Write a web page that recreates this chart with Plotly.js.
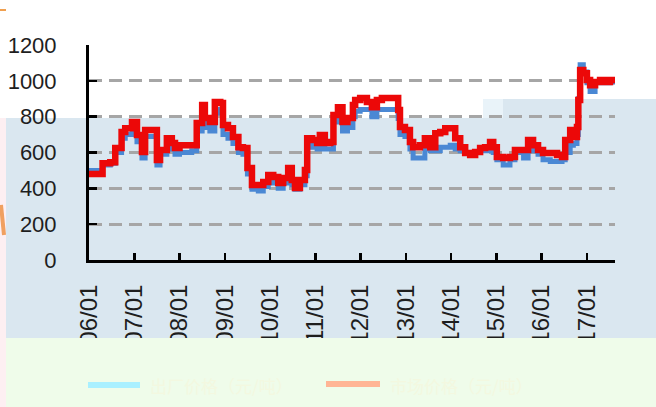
<!DOCTYPE html>
<html>
<head>
<meta charset="utf-8">
<script src="https://cdn.plot.ly/plotly-3.0.1.min.js"></script>
<style>html,body{margin:0;padding:0;background:#fff;}#chart{width:656px;height:407px;}</style>
</head>
<body>
<div id="chart"></div>
<script>
// Time in decimal years
var years = [2006.00,2006.29,2006.30,2006.47,2006.58,2006.72,2006.80,2006.95,2007.06,2007.17,2007.24,2007.40,2007.50,2007.57,2007.72,2007.83,2007.90,2008.00,2008.27,2008.38,2008.50,2008.56,2008.67,2008.78,2008.90,2008.96,2009.07,2009.18,2009.30,2009.40,2009.50,2009.60,2009.74,2009.85,2009.96,2010.07,2010.18,2010.29,2010.40,2010.48,2010.55,2010.66,2010.77,2010.82,2010.93,2011.04,2011.10,2011.21,2011.33,2011.40,2011.50,2011.60,2011.71,2011.83,2011.88,2011.99,2012.14,2012.25,2012.36,2012.47,2012.76,2012.83,2012.87,2012.98,2013.09,2013.16,2013.31,2013.42,2013.54,2013.65,2013.76,2013.87,2013.98,2014.09,2014.20,2014.31,2014.42,2014.53,2014.64,2014.75,2014.86,2014.93,2015.01,2015.15,2015.30,2015.41,2015.60,2015.70,2015.81,2015.92,2016.03,2016.19,2016.34,2016.45,2016.52,2016.63,2016.70,2016.78,2016.81,2016.85,2016.92,2017.00,2017.07,2017.18,2017.29,2017.40,2017.51,2017.62];
var redSeries = [480,480,540,545,625,714,736,770,697,603,725,725,558,614,680,653,625,641,640,765,865,792,770,882,876,753,736,686,630,625,513,418,418,435,474,463,430,457,513,446,402,446,502,680,670,653,697,653,658,809,853,770,792,865,893,904,882,853,893,904,904,837,742,725,658,630,641,680,630,708,714,736,736,680,630,597,586,603,625,630,658,630,575,569,575,614,614,670,641,614,597,597,586,575,670,725,686,742,893,1060,1043,1004,976,993,1004,993,1004,1015];
var blueSeries = [500,500,530,540,600,680,700,740,660,570,690,690,530,590,640,620,590,600,610,720,820,740,720,840,820,700,680,650,600,590,480,395,385,410,440,430,400,430,480,420,395,420,470,640,630,620,650,620,620,770,800,720,740,800,830,840,840,800,840,840,840,790,700,690,620,570,570,620,610,610,630,630,640,620,610,600,590,600,610,610,620,600,560,530,560,600,570,640,610,590,560,550,550,560,600,640,650,700,900,1090,1050,990,940,990,1000,990,995,980];
var tickYears = [2006,2007,2008,2009,2010,2011,2012,2013,2014,2015,2016,2017];
var tickLabels = ["2006/01","2007/01","2008/01","2009/01","2010/01","2011/01","2012/01","2013/01","2014/01","2015/01","2016/01","2017/01"];
var seriesNames = ["出厂价格（元/吨）","市场价格（元/吨）"];

// pixel -> paper helpers (plot area: x 89..615, y 45..260)
function px(x){return (x-89)/526;}
function py(y){return (260-y)/215;}

var yFont = {family:'"Liberation Sans",Arial,sans-serif', size:22, color:'#1e1e1e'};
var xFont = {family:'"Liberation Sans",Arial,sans-serif', size:24, color:'#1e1e1e'};

var traces = [
  {x:years, y:blueSeries, type:'scatter', mode:'lines', name:seriesNames[0], showlegend:false,
   line:{color:'#4a88d4', width:5, shape:'hv'}},
  {x:years, y:redSeries, type:'scatter', mode:'lines', name:seriesNames[1], showlegend:false,
   line:{color:'#ec0808', width:6.5, shape:'hv'}}
];

function rect(x0,y0,x1,y1,color,layer){
  return {type:'rect', xref:'paper', yref:'paper', x0:px(x0), x1:px(x1), y0:py(y0), y1:py(y1),
          fillcolor:color, line:{width:0}, layer:layer||'below'};
}
function seg(x0,y0,x1,y1,color,w){
  return {type:'line', xref:'paper', yref:'paper', x0:px(x0), x1:px(x1), y0:py(y0), y1:py(y1),
          line:{color:color, width:w}, layer:'above'};
}

var shapes = [
  rect(6,118,656,338,'#dae7f0'),
  rect(483,99,503,118,'#e9f3f9'),
  rect(503,99,656,118,'#dae7f0'),
  rect(0,118,6,407,'#fdeff2'),
  rect(6,338,656,407,'#effcea','above'),
  rect(0,338,6,407,'#fdeff2','above'),
  seg(0,10,6,10,'#f0a050',2),
  seg(1,205,4,235,'#f0a060',4),
  seg(88,385,140,385,'#a9f0ff',6),
  seg(326,384,380,384,'#ffb595',6)
];

var annotations = [
  {xref:'paper', yref:'paper', x:px(148), y:py(385), xanchor:'left', yanchor:'middle', showarrow:false,
   text:seriesNames[0], font:{family:'"Noto Sans CJK SC",sans-serif', size:17, color:'#f3f8e0'}},
  {xref:'paper', yref:'paper', x:px(388), y:py(385), xanchor:'left', yanchor:'middle', showarrow:false,
   text:seriesNames[1], font:{family:'"Noto Sans CJK SC",sans-serif', size:17, color:'#f3f8e0'}}
];

var layout = {
  width:656, height:407,
  margin:{l:89, r:41, t:45, b:147, pad:0},
  paper_bgcolor:'#ffffff',
  plot_bgcolor:'rgba(0,0,0,0)',
  showlegend:false,
  font:yFont,
  xaxis:{
    range:[2006, 2017.62], tickvals:tickYears, ticktext:tickLabels, tickangle:-90,
    ticks:'inside', ticklen:7, tickwidth:2.5, tickcolor:'#000',
    showline:true, linecolor:'#000', linewidth:3, showgrid:false, zeroline:false,
    tickfont:xFont, ticklabelstandoff:12, fixedrange:true
  },
  yaxis:{
    range:[0,1200], dtick:200, tick0:0,
    ticks:'inside', ticklen:8, tickwidth:2.5, tickcolor:'#000',
    showline:true, linecolor:'#000', linewidth:3,
    showgrid:true, gridcolor:'#a6a6a6', gridwidth:3, griddash:'13px,7px',
    zeroline:false, tickfont:yFont, ticklabelstandoff:25, fixedrange:true
  },
  shapes:shapes,
  annotations:annotations
};

Plotly.newPlot('chart', traces, layout, {displayModeBar:false, staticPlot:true});
</script>
</body>
</html>
